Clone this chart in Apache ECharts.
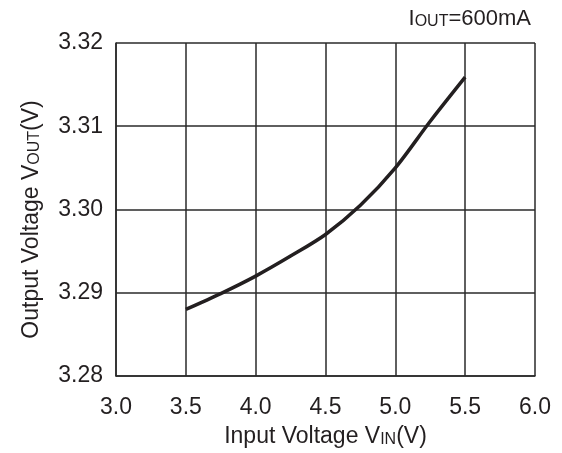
<!DOCTYPE html>
<html>
<head>
<meta charset="utf-8">
<script src="https://cdn.jsdelivr.net/npm/echarts@6/dist/echarts.min.js"></script>
<style>
    html, body { margin: 0; padding: 0; background: #fff; }
    #chart { width: 562px; height: 453px; }
</style>
</head>
<body>
<div id="chart"></div>
<script>
// input voltage (V) and output voltage (V)
const vin = [3.5, 3.75, 4.0, 4.25, 4.5, 4.75, 5.0, 5.25, 5.5];
const vout = [3.288, 3.2899, 3.292, 3.2944, 3.297, 3.3005, 3.305, 3.3106, 3.3159];
const xTicks = [3.0, 3.5, 4.0, 4.5, 5.0, 5.5, 6.0];
const yTicks = [3.28, 3.29, 3.30, 3.31, 3.32];

const chart = echarts.init(document.getElementById("chart"));
const font = "Liberation Sans, Arial, sans-serif";
const ink = "#231f20";
const gridLine = {lineStyle: {color: "#2a2a2a", width: 1.5}};
const nameRich = {
    n: {fontSize: 23, color: ink, fontFamily: font},
    s: {fontSize: 16, color: ink, fontFamily: font, padding: [6, 0, 0, 0]}
};

chart.setOption({
    animation: false,
    textStyle: {fontFamily: font},
    title: {
        text: "{n|I}{s|OUT}{n|=600mA}",
        right: 26,
        top: 3,
        textStyle: {
            fontWeight: "normal",
            rich: {
                n: {fontSize: 22, color: ink, fontFamily: font},
                s: {fontSize: 16, color: ink, fontFamily: font, padding: [5, 0, 0, 0]}
            }
        }
    },
    grid: {left: 116, right: 27, top: 43, bottom: 75},
    xAxis: {
        type: "value",
        min: 3.0,
        max: 6.0,
        interval: 0.5,
        axisLine: gridLine,
        axisTick: {show: false},
        splitLine: {show: true, ...gridLine},
        axisLabel: {
            color: ink, fontSize: 23, margin: 20,
            formatter: v => xTicks.find(t => Math.abs(t - v) < 1e-6).toFixed(1)
        },
        name: "{n|Input Voltage V}{s|IN}{n|(V)}",
        nameLocation: "middle",
        nameGap: 49,
        nameTextStyle: {rich: nameRich}
    },
    yAxis: {
        type: "value",
        min: 3.28,
        max: 3.32,
        interval: 0.01,
        axisLine: {show: true, ...gridLine},
        axisTick: {show: false},
        splitLine: {show: true, ...gridLine},
        axisLabel: {
            color: ink, fontSize: 23, margin: 13,
            formatter: v => yTicks.find(t => Math.abs(t - v) < 1e-6).toFixed(2)
        },
        name: "{n|Output Voltage V}{s|OUT}{n|(V)}",
        nameLocation: "middle",
        nameGap: 73,
        nameTextStyle: {rich: nameRich, padding: [0, 20, 0, 0]}
    },
    series: [{
        type: "line",
        smooth: 0.3,
        showSymbol: false,
        data: vin.map((x, i) => [x, vout[i]]),
        lineStyle: {color: ink, width: 3.5}
    }]
});
</script>
</body>
</html>
